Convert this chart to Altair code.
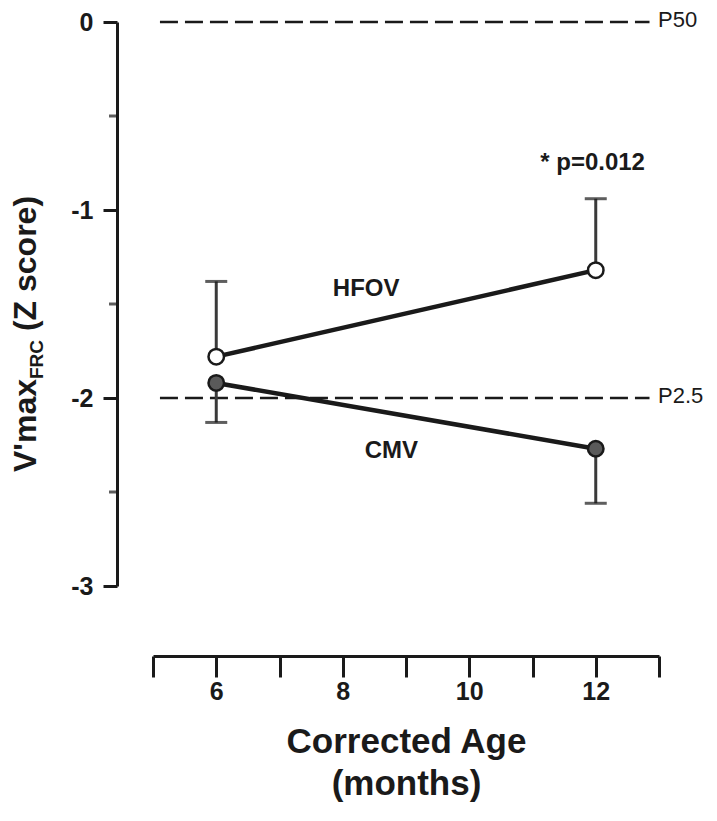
import altair as alt
import pandas as pd

# ---- data ----
ages = [6, 12]
groups = ["HFOV", "CMV"]
hfov_mean = [-1.78, -1.32]
hfov_upper = [-1.38, -0.94]
cmv_mean = [-1.92, -2.27]
cmv_lower = [-2.13, -2.56]

ref_values = [0, -2]
ref_labels = ["P50", "P2.5"]
ref_x_start = [5.11, 5.11]
ref_x_end = [12.85, 12.85]
ref_label_x = [13, 13]

x_ticks = [5, 6, 7, 8, 9, 10, 11, 12, 13]
y_ticks = [0, -1, -2, -3]
y_minor = [-0.5, -1.5, -2.5]

ann_text = ["HFOV", "CMV", "* p=0.012"]
ann_x = [8.37, 8.77, 11.95]
ann_y = [-1.42, -2.28, -0.75]

title_parts = ["V'max", "FRC", "(Z score)"]

FONT = "Liberation Sans"
INK = "#1a1a1a"

df = pd.DataFrame({
    "age": ages * 2,
    "z": hfov_mean + cmv_mean,
    "bound": hfov_upper + cmv_lower,
    "group": [groups[0]] * 2 + [groups[1]] * 2,
})
ref_df = pd.DataFrame({"z": ref_values, "label": ref_labels,
                       "age": ref_x_start, "age2": ref_x_end, "lx": ref_label_x})
ann_df = pd.DataFrame({"text": ann_text, "age": ann_x, "z": ann_y})
minor_df = pd.DataFrame({"z": y_minor})
one = pd.DataFrame({"k": [0]})

xs = alt.Scale(domain=[5, 13], nice=False, zero=False)
ys = alt.Scale(domain=[-3, 0], nice=False, zero=False)

xaxis = alt.Axis(values=x_ticks,
                 labelExpr="datum.value % 2 == 0 ? '' + datum.value : ''",
                 offset=70, tickSize=21, tickWidth=3, domainWidth=3,
                 domainColor=INK, tickColor=INK, grid=False,
                 labelFont=FONT, labelFontSize=25, labelFontWeight="bold",
                 labelColor=INK, labelPadding=2,
                 title=["Corrected Age", "(months)"], titleFont=FONT,
                 titleFontSize=35, titleFontWeight="bold", titleColor=INK,
                 titlePadding=20, titleLineHeight=42)
yaxis = alt.Axis(values=y_ticks, labelExpr="'' + datum.value",
                 offset=36, tickSize=14, tickWidth=3, domainWidth=3,
                 domainColor=INK, tickColor=INK, grid=False,
                 labelFont=FONT, labelFontSize=25, labelFontWeight="bold",
                 labelColor=INK, labelPadding=10, title=None)


def X(field="age"):
    return alt.X(f"{field}:Q", scale=xs, axis=xaxis)


def Y(field="z"):
    return alt.Y(f"{field}:Q", scale=ys, axis=yaxis)


refs = alt.Chart(ref_df).mark_rule(strokeDash=[18, 7], strokeWidth=2.5, color=INK).encode(
    x=X(), x2="age2:Q", y=Y())
ref_text = alt.Chart(ref_df).mark_text(align="left", baseline="middle", font=FONT,
                                       fontSize=22, color=INK, dx=-1, dy=-2).encode(
    x=alt.X("lx:Q", scale=xs, axis=xaxis), y=Y(), text="label:N")

err = alt.Chart(df).mark_rule(strokeWidth=3, color="#3a3a3a").encode(
    x=X(), y=Y(), y2="bound:Q")
caps = alt.Chart(df).mark_tick(orient="horizontal", size=22, thickness=3, color=INK).encode(
    x=X(), y=Y("bound"))
lines = alt.Chart(df).mark_line(strokeWidth=4.5, color=INK).encode(
    x=X(), y=Y(), detail="group:N")
pts = alt.Chart(df).mark_point(shape="circle", filled=False, size=240, strokeWidth=2.5,
                               stroke=INK, opacity=1).encode(
    x=X(), y=Y(),
    fill=alt.Fill("group:N", scale=alt.Scale(domain=groups, range=["white", "#5a5a5a"]),
                  legend=None))
ann = alt.Chart(ann_df).mark_text(font=FONT, fontSize=24, fontWeight="bold", color=INK,
                                  baseline="middle").encode(
    x=X(), y=Y(), text="text:N")

minor = alt.Chart(minor_df).mark_tick(orient="horizontal", size=8, thickness=3,
                                      color=INK).encode(
    x=alt.value(-40), y=Y())

# y axis title with subscript (rotated text pieces)
t_main = 32
t_sub = 19
y_start = 450
w1 = 2.906 * t_main
w2 = 2.055 * t_sub
gap = 0.278 * t_main
yt1 = alt.Chart(one).mark_text(text=title_parts[0], angle=270, align="left",
                               baseline="alphabetic", font=FONT, fontSize=t_main,
                               fontWeight="bold", color=INK).encode(
    x=alt.value(-117), y=alt.value(y_start))
yt2 = alt.Chart(one).mark_text(text=title_parts[1], angle=270, align="left",
                               baseline="alphabetic", font=FONT, fontSize=t_sub,
                               fontWeight="bold", color=INK).encode(
    x=alt.value(-110), y=alt.value(y_start - w1))
yt3 = alt.Chart(one).mark_text(text=title_parts[2], angle=270, align="left",
                               baseline="alphabetic", font=FONT, fontSize=t_main,
                               fontWeight="bold", color=INK).encode(
    x=alt.value(-117), y=alt.value(y_start - w1 - w2 - gap))

chart = alt.layer(refs, ref_text, err, caps, lines, pts, ann, minor, yt1, yt2, yt3).properties(
    width=506, height=564,
    padding={"left": 145, "top": 14, "right": 45, "bottom": 226},
    autosize=alt.AutoSizeParams(type="none"),
    background="white",
).configure_view(stroke=None)

chart.save("out.html", embed_options={"renderer": "svg", "actions": False})
